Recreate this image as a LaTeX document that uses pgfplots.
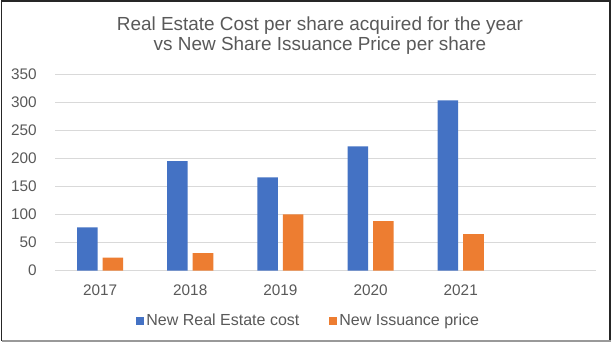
\documentclass[border=0pt]{standalone}
\usepackage{fontspec}
\setmainfont{Liberation Sans}
\usepackage{pgfplots}
\pgfplotsset{compat=1.18}
\definecolor{xblue}{HTML}{4472C4}
\definecolor{xorange}{HTML}{ED7D31}
\definecolor{txt}{HTML}{595959}
\definecolor{gridc}{HTML}{D9D9D9}
\begin{document}
\begin{tikzpicture}[x=1pt,y=1pt]
\path[use as bounding box] (0,0) rectangle (460.5,259.5);
\fill[white] (0,0) rectangle (460.5,259.5);
\draw[black!85, line width=0.9pt] (1.2,3.75) -- (1.2,258.8) -- (457.5,258.8) -- (457.5,3.75);
\draw[gray!80, line width=2pt] (1.2,3.75) -- (458.4,3.75);
\node[txt, font=\fontsize{14.2}{17}\selectfont, anchor=base, inner sep=0pt] at (240,236.25) {Real Estate Cost per share acquired for the year};
\node[txt, font=\fontsize{14.2}{17}\selectfont, anchor=base, inner sep=0pt] at (240,221.25) {vs New Share Issuance Price per share};
\begin{axis}[
  at={(41.25pt,56.5pt)}, anchor=south west,
  scale only axis, width=405.75pt, height=147.5pt,
  ybar=3.75pt, bar width=15.4pt,
  xmin=-0.5, xmax=5.5, ymin=0, ymax=350,
  ytick={0,50,...,350},
  xtick={0,1,2,3,4}, xticklabels={2017,2018,2019,2020,2021},
  axis line style={draw=none},
  ymajorgrids, grid style={gridc, line width=0.75pt},
  major tick length=0pt,
  tick label style={txt, font=\fontsize{11.5}{13.5}\selectfont},
  yticklabel style={anchor=east, inner sep=0pt, xshift=-13.5pt},
  xticklabel style={anchor=north, inner sep=0pt, yshift=-10.2pt},
  /pgf/number format/assume math mode=true,
  legend columns=2,
  legend style={at={(0.469,-0.256)}, anchor=center, draw=none, fill=none,
    font=\fontsize{12}{14}\selectfont, text=txt,
    /tikz/every even column/.append style={column sep=20pt}},
  legend image code/.code={\fill[#1] (0pt,-3pt) rectangle (6pt,3pt);},
]
\addplot[fill=xblue, draw=none] coordinates {(0,77) (1,195) (2,166) (3,221) (4,303)};
\addplot[fill=xorange, draw=none] coordinates {(0,23) (1,31) (2,100) (3,88) (4,65)};
\legend{New Real Estate cost, New Issuance price}
\end{axis}
\end{tikzpicture}
\end{document}
